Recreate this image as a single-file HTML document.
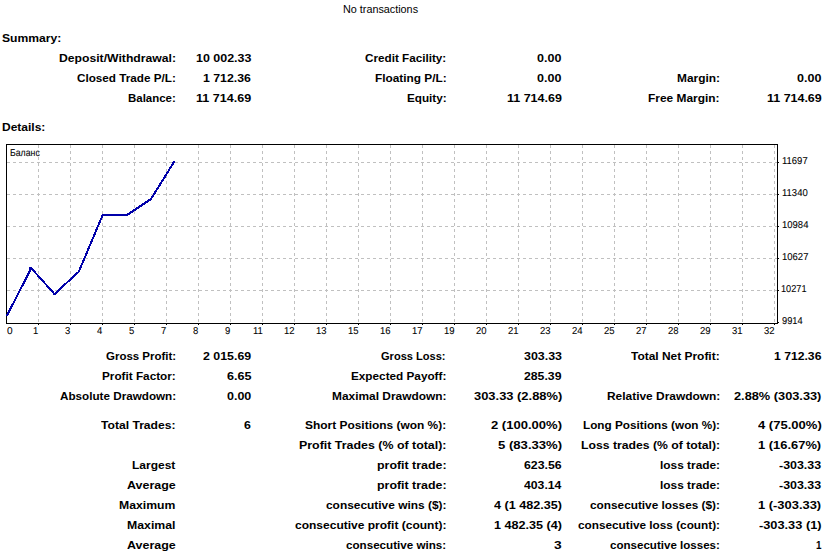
<!DOCTYPE html>
<html><head><meta charset="utf-8"><title>Statement</title>
<style>
html,body{margin:0;padding:0;background:#fff;width:826px;height:555px;overflow:hidden}
.ch{position:absolute;left:0;top:0}
.t{position:absolute;font-family:"Liberation Sans",sans-serif;white-space:pre;line-height:20px;color:#000;transform-origin:0 0}
.b{font-weight:bold}
.g{text-rendering:geometricPrecision;-webkit-text-stroke:0.08px #000}
</style></head><body>
<svg class="ch" width="826" height="340" viewBox="0 0 826 340" shape-rendering="crispEdges"><path d="M7 162.5H777M7 194.5H777M7 226.5H777M7 258.5H777M7 290.5H777" stroke="#c0c0c0" stroke-width="1" stroke-dasharray="3 3" fill="none"/><path d="M38.5 145V323M70.5 145V323M102.5 145V323M134.5 145V323M166.5 145V323M198.5 145V323M230.5 145V323M262.5 145V323M294.5 145V323M326.5 145V323M358.5 145V323M390.5 145V323M422.5 145V323M454.5 145V323M486.5 145V323M518.5 145V323M550.5 145V323M582.5 145V323M614.5 145V323M646.5 145V323M678.5 145V323M710.5 145V323M742.5 145V323M774.5 145V323" stroke="#c0c0c0" stroke-width="1" stroke-dasharray="3 3" fill="none"/><rect x="6.5" y="144.5" width="771" height="179" fill="none" stroke="#000" stroke-width="1"/><path d="M38 324h1v1h-1zM70 324h1v1h-1zM102 324h1v1h-1zM134 324h1v1h-1zM166 324h1v1h-1zM198 324h1v1h-1zM230 324h1v1h-1zM262 324h1v1h-1zM294 324h1v1h-1zM326 324h1v1h-1zM358 324h1v1h-1zM390 324h1v1h-1zM422 324h1v1h-1zM454 324h1v1h-1zM486 324h1v1h-1zM518 324h1v1h-1zM550 324h1v1h-1zM582 324h1v1h-1zM614 324h1v1h-1zM646 324h1v1h-1zM678 324h1v1h-1zM710 324h1v1h-1zM742 324h1v1h-1zM774 324h1v1h-1zM778 162h1v1h-1zM778 194h1v1h-1zM778 226h1v1h-1zM778 258h1v1h-1zM778 290h1v1h-1zM778 322h1v1h-1z" fill="#000"/><polyline points="7.1,315.3 31.3,268.2 54.5,294 78.8,271.7 102.7,215 127,215 151,199 174,162" fill="none" stroke="#0000aa" stroke-width="2" stroke-linejoin="round" stroke-linecap="round"/><path d="M29 267h3v2h-3zM53 293h3v2h-3z" fill="#0000aa"/></svg>
<div class="t" style="left:343.18px;top:-1px;font-size:11px;transform:scaleX(0.9817)">No transactions</div>
<div class="t b" style="left:1.62px;top:28px;font-size:11px;transform:scaleX(1.1030)">Summary:</div>
<div class="t b" style="left:58.99px;top:48px;font-size:11px;transform:scaleX(1.1074)">Deposit/Withdrawal:</div>
<div class="t b" style="left:76.96px;top:68px;font-size:11px;transform:scaleX(1.0632)">Closed Trade P/L:</div>
<div class="t b" style="left:127.94px;top:88px;font-size:11px;transform:scaleX(1.0410)">Balance:</div>
<div class="t b" style="left:195.91px;top:48px;font-size:11px;transform:scaleX(1.1316)">10 002.33</div>
<div class="t b" style="left:203.22px;top:68px;font-size:11px;transform:scaleX(1.1194)">1 712.36</div>
<div class="t b" style="left:195.91px;top:88px;font-size:11px;transform:scaleX(1.1409)">11 714.69</div>
<div class="t b" style="left:364.86px;top:48px;font-size:11px;transform:scaleX(1.0634)">Credit Facility:</div>
<div class="t b" style="left:374.51px;top:68px;font-size:11px;transform:scaleX(1.0749)">Floating P/L:</div>
<div class="t b" style="left:406.52px;top:88px;font-size:11px;transform:scaleX(1.0644)">Equity:</div>
<div class="t b" style="left:537.47px;top:48px;font-size:11px;transform:scaleX(1.1380)">0.00</div>
<div class="t b" style="left:537.47px;top:68px;font-size:11px;transform:scaleX(1.1380)">0.00</div>
<div class="t b" style="left:506.91px;top:88px;font-size:11px;transform:scaleX(1.1346)">11 714.69</div>
<div class="t b" style="left:677.21px;top:68px;font-size:11px;transform:scaleX(1.0808)">Margin:</div>
<div class="t b" style="left:648.40px;top:88px;font-size:11px;transform:scaleX(1.0842)">Free Margin:</div>
<div class="t b" style="left:797.07px;top:68px;font-size:11px;transform:scaleX(1.1380)">0.00</div>
<div class="t b" style="left:766.61px;top:88px;font-size:11px;transform:scaleX(1.1324)">11 714.69</div>
<div class="t b" style="left:1.70px;top:117px;font-size:11px;transform:scaleX(1.0914)">Details:</div>
<div class="t b" style="left:105.77px;top:346px;font-size:11px;transform:scaleX(1.0435)">Gross Profit:</div>
<div class="t b" style="left:203.03px;top:346px;font-size:11px;transform:scaleX(1.1244)">2 015.69</div>
<div class="t b" style="left:381.49px;top:346px;font-size:11px;transform:scaleX(1.0057)">Gross Loss:</div>
<div class="t b" style="left:523.92px;top:346px;font-size:11px;transform:scaleX(1.1286)">303.33</div>
<div class="t b" style="left:631.46px;top:346px;font-size:11px;transform:scaleX(1.0852)">Total Net Profit:</div>
<div class="t b" style="left:774.03px;top:346px;font-size:11px;transform:scaleX(1.1074)">1 712.36</div>
<div class="t b" style="left:102.02px;top:366px;font-size:11px;transform:scaleX(1.0679)">Profit Factor:</div>
<div class="t b" style="left:226.56px;top:366px;font-size:11px;transform:scaleX(1.1444)">6.65</div>
<div class="t b" style="left:350.82px;top:366px;font-size:11px;transform:scaleX(1.0684)">Expected Payoff:</div>
<div class="t b" style="left:524.44px;top:366px;font-size:11px;transform:scaleX(1.1133)">285.39</div>
<div class="t b" style="left:59.77px;top:386px;font-size:11px;transform:scaleX(1.0616)">Absolute Drawdown:</div>
<div class="t b" style="left:226.83px;top:386px;font-size:11px;transform:scaleX(1.1351)">0.00</div>
<div class="t b" style="left:331.81px;top:386px;font-size:11px;transform:scaleX(1.0824)">Maximal Drawdown:</div>
<div class="t b" style="left:473.90px;top:386px;font-size:11px;transform:scaleX(1.1736)">303.33 (2.88%)</div>
<div class="t b" style="left:606.91px;top:386px;font-size:11px;transform:scaleX(1.0836)">Relative Drawdown:</div>
<div class="t b" style="left:734.42px;top:386px;font-size:11px;transform:scaleX(1.1613)">2.88% (303.33)</div>
<div class="t b" style="left:101.46px;top:415px;font-size:11px;transform:scaleX(1.1016)">Total Trades:</div>
<div class="t b" style="left:244.37px;top:415px;font-size:11px;transform:scaleX(1.1244)">6</div>
<div class="t b" style="left:304.93px;top:415px;font-size:11px;transform:scaleX(1.0845)">Short Positions (won %):</div>
<div class="t b" style="left:491.11px;top:415px;font-size:11px;transform:scaleX(1.1846)">2 (100.00%)</div>
<div class="t b" style="left:582.92px;top:415px;font-size:11px;transform:scaleX(1.0677)">Long Positions (won %):</div>
<div class="t b" style="left:757.81px;top:415px;font-size:11px;transform:scaleX(1.1847)">4 (75.00%)</div>
<div class="t b" style="left:298.87px;top:435px;font-size:11px;transform:scaleX(1.1277)">Profit Trades (% of total):</div>
<div class="t b" style="left:497.81px;top:435px;font-size:11px;transform:scaleX(1.1921)">5 (83.33%)</div>
<div class="t b" style="left:581.09px;top:435px;font-size:11px;transform:scaleX(1.1100)">Loss trades (% of total):</div>
<div class="t b" style="left:758.39px;top:435px;font-size:11px;transform:scaleX(1.1739)">1 (16.67%)</div>
<div class="t b" style="left:131.80px;top:455px;font-size:11px;transform:scaleX(1.0900)">Largest</div>
<div class="t b" style="left:376.76px;top:455px;font-size:11px;transform:scaleX(1.1265)">profit trade:</div>
<div class="t b" style="left:524.27px;top:455px;font-size:11px;transform:scaleX(1.1182)">623.56</div>
<div class="t b" style="left:659.97px;top:455px;font-size:11px;transform:scaleX(1.0797)">loss trade:</div>
<div class="t b" style="left:779.16px;top:455px;font-size:11px;transform:scaleX(1.1291)">-303.33</div>
<div class="t b" style="left:126.54px;top:475px;font-size:11px;transform:scaleX(1.1320)">Average</div>
<div class="t b" style="left:376.76px;top:475px;font-size:11px;transform:scaleX(1.1265)">profit trade:</div>
<div class="t b" style="left:524.13px;top:475px;font-size:11px;transform:scaleX(1.1110)">403.14</div>
<div class="t b" style="left:659.97px;top:475px;font-size:11px;transform:scaleX(1.0797)">loss trade:</div>
<div class="t b" style="left:779.16px;top:475px;font-size:11px;transform:scaleX(1.1291)">-303.33</div>
<div class="t b" style="left:119.09px;top:495px;font-size:11px;transform:scaleX(1.1108)">Maximum</div>
<div class="t b" style="left:325.73px;top:495px;font-size:11px;transform:scaleX(1.0828)">consecutive wins ($):</div>
<div class="t b" style="left:493.82px;top:495px;font-size:11px;transform:scaleX(1.1452)">4 (1 482.35)</div>
<div class="t b" style="left:589.93px;top:495px;font-size:11px;transform:scaleX(1.0734)">consecutive losses ($):</div>
<div class="t b" style="left:758.39px;top:495px;font-size:11px;transform:scaleX(1.1739)">1 (-303.33)</div>
<div class="t b" style="left:126.88px;top:515px;font-size:11px;transform:scaleX(1.1162)">Maximal</div>
<div class="t b" style="left:294.82px;top:515px;font-size:11px;transform:scaleX(1.0916)">consecutive profit (count):</div>
<div class="t b" style="left:493.80px;top:515px;font-size:11px;transform:scaleX(1.1454)">1 482.35 (4)</div>
<div class="t b" style="left:578.03px;top:515px;font-size:11px;transform:scaleX(1.0706)">consecutive loss (count):</div>
<div class="t b" style="left:759.05px;top:515px;font-size:11px;transform:scaleX(1.1615)">-303.33 (1)</div>
<div class="t b" style="left:126.54px;top:535px;font-size:11px;transform:scaleX(1.1320)">Average</div>
<div class="t b" style="left:346.04px;top:535px;font-size:11px;transform:scaleX(1.0576)">consecutive wins:</div>
<div class="t b" style="left:554.35px;top:535px;font-size:11px;transform:scaleX(1.2496)">3</div>
<div class="t b" style="left:610.04px;top:535px;font-size:11px;transform:scaleX(1.0510)">consecutive losses:</div>
<div class="t b" style="left:815.88px;top:535px;font-size:11px;transform:scaleX(0.8954)">1</div>
<div class="t g" style="left:9.61px;top:144px;font-size:10px;transform:scaleX(0.8754)">Баланс</div>
<div class="t g" style="left:781.81px;top:152px;font-size:10px;transform:scaleX(0.9486)">11697</div>
<div class="t g" style="left:781.81px;top:184px;font-size:10px;transform:scaleX(0.9501)">11340</div>
<div class="t g" style="left:781.81px;top:216px;font-size:10px;transform:scaleX(0.9501)">10984</div>
<div class="t g" style="left:781.81px;top:248px;font-size:10px;transform:scaleX(0.9501)">10627</div>
<div class="t g" style="left:781.44px;top:280px;font-size:10px;transform:scaleX(0.9175)">10271</div>
<div class="t g" style="left:781.66px;top:312px;font-size:10px;transform:scaleX(0.9284)">9914</div>
<div class="t g" style="left:6.80px;top:322px;font-size:10px;transform:scaleX(1.0058)">0</div>
<div class="t g" style="left:32.89px;top:322px;font-size:10px;transform:scaleX(0.9501)">1</div>
<div class="t g" style="left:64.88px;top:322px;font-size:10px;transform:scaleX(0.9501)">3</div>
<div class="t g" style="left:96.89px;top:322px;font-size:10px;transform:scaleX(0.9501)">4</div>
<div class="t g" style="left:128.84px;top:322px;font-size:10px;transform:scaleX(0.9501)">5</div>
<div class="t g" style="left:160.92px;top:322px;font-size:10px;transform:scaleX(0.9501)">7</div>
<div class="t g" style="left:192.88px;top:322px;font-size:10px;transform:scaleX(0.9501)">8</div>
<div class="t g" style="left:224.84px;top:322px;font-size:10px;transform:scaleX(0.9501)">9</div>
<div class="t g" style="left:252.65px;top:322px;font-size:10px;transform:scaleX(0.9501)">11</div>
<div class="t g" style="left:283.86px;top:322px;font-size:10px;transform:scaleX(0.9501)">12</div>
<div class="t g" style="left:315.76px;top:322px;font-size:10px;transform:scaleX(0.9501)">13</div>
<div class="t g" style="left:347.74px;top:322px;font-size:10px;transform:scaleX(0.9501)">15</div>
<div class="t g" style="left:379.74px;top:322px;font-size:10px;transform:scaleX(0.9501)">16</div>
<div class="t g" style="left:411.87px;top:322px;font-size:10px;transform:scaleX(0.9501)">17</div>
<div class="t g" style="left:443.70px;top:322px;font-size:10px;transform:scaleX(0.9501)">19</div>
<div class="t g" style="left:475.70px;top:322px;font-size:10px;transform:scaleX(0.9501)">20</div>
<div class="t g" style="left:507.84px;top:322px;font-size:10px;transform:scaleX(0.9501)">21</div>
<div class="t g" style="left:539.76px;top:322px;font-size:10px;transform:scaleX(0.9501)">23</div>
<div class="t g" style="left:571.88px;top:322px;font-size:10px;transform:scaleX(0.9501)">24</div>
<div class="t g" style="left:603.74px;top:322px;font-size:10px;transform:scaleX(0.9501)">25</div>
<div class="t g" style="left:635.87px;top:322px;font-size:10px;transform:scaleX(0.9501)">27</div>
<div class="t g" style="left:667.77px;top:322px;font-size:10px;transform:scaleX(0.9501)">28</div>
<div class="t g" style="left:699.70px;top:322px;font-size:10px;transform:scaleX(0.9501)">29</div>
<div class="t g" style="left:731.84px;top:322px;font-size:10px;transform:scaleX(0.9501)">31</div>
<div class="t g" style="left:763.86px;top:322px;font-size:10px;transform:scaleX(0.9501)">32</div>
</body></html>
